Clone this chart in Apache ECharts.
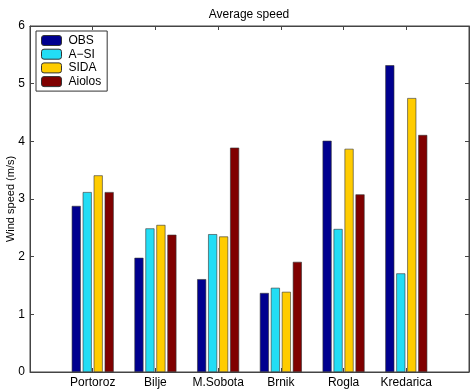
<!DOCTYPE html>
<html><head><meta charset="utf-8">
<script src="https://cdn.jsdelivr.net/npm/echarts@6/dist/echarts.min.js"></script>
<style>html,body{margin:0;padding:0;background:#fff}#c{width:474px;height:390px}</style>
</head><body><div id="c"></div>
<script>
const categories = ['Portoroz', 'Bilje', 'M.Sobota', 'Brnik', 'Rogla', 'Kredarica'];
const seriesNames = ['OBS', 'A\u2212SI', 'SIDA', 'Aiolos'];
const obs    = [2.88, 1.98, 1.61, 1.37, 4.01, 5.32];
const asi    = [3.12, 2.49, 2.39, 1.46, 2.48, 1.71];
const sida   = [3.41, 2.55, 2.35, 1.39, 3.87, 4.75];
const aiolos = [3.12, 2.38, 3.89, 1.91, 3.08, 4.11];
const yTicks = [0, 1, 2, 3, 4, 5, 6];

const colors = ['#00008F', '#22DDF5', '#FFCC00', '#800000'];
const values = [obs, asi, sida, aiolos];
const font = 'Liberation Sans, Arial, Helvetica, sans-serif';
const axisCol = '#444';

// frame: x from 30 to 469 (0..7), categories at 1..6
const L = 30, R = 469, W = 474;
const step = (R - L) / 7;
const barLeft = L + step * 0.5, barRight = R - step * 0.5;

const chart = echarts.init(document.getElementById('c'), null, {renderer: 'canvas'});
chart.setOption({
  animation: false,
  backgroundColor: '#fff',
  title: {text: 'Average speed', left: 244, textAlign: 'center', top: 4,
    textStyle: {fontFamily: font, fontSize: 12, fontWeight: 'normal', color: '#000'}},
  grid: [
    {left: L, right: W - R, top: 26, bottom: 18, containLabel: false, outerBoundsMode: 'none', show: true, borderColor: axisCol, borderWidth: 1},
    {left: barLeft, right: W - barRight, top: 26, bottom: 18, containLabel: false, outerBoundsMode: 'none', show: false}
  ],
  legend: {
    orient: 'vertical', left: 36, top: 31, itemWidth: 20, itemHeight: 10, itemGap: 0.7,
    borderColor: '#333', borderWidth: 1, padding: [3, 6, 3, 5], backgroundColor: '#fff',
    textStyle: {fontFamily: font, fontSize: 12, lineHeight: 13, color: '#000', padding: [0, 0, 0, 2]},
    data: seriesNames.map(n => ({name: n, itemStyle: {borderColor: '#333', borderWidth: 1}}))
  },
  xAxis: [{
    gridIndex: 0, type: 'value', min: 0, max: 7, interval: 1,
    axisLine: {show: true, onZero: false, lineStyle: {color: axisCol}},
    axisTick: {show: true, inside: true, length: 4, lineStyle: {color: axisCol}},
    axisLabel: {show: false},
    splitLine: {show: false}
  }, {
    gridIndex: 0, type: 'value', min: 0, max: 7, interval: 1, position: 'top',
    axisLine: {show: true, onZero: false, lineStyle: {color: axisCol}},
    axisTick: {show: true, inside: true, length: 4, lineStyle: {color: axisCol}},
    axisLabel: {show: false}, splitLine: {show: false}
  }, {
    gridIndex: 1, type: 'category', data: categories, boundaryGap: true,
    axisLine: {show: false}, axisTick: {show: false},
    axisLabel: {show: true, interval: 0, fontFamily: font, fontSize: 12, color: '#000', margin: 5},
    splitLine: {show: false}
  }],
  yAxis: [{
    gridIndex: 0, type: 'value', min: 0, max: 6, interval: 1,
    name: 'Wind speed (m/s)', nameLocation: 'middle', nameGap: 14, nameRotate: 90, nameMoveOverlap: false,
    nameTextStyle: {fontFamily: font, fontSize: 11, color: '#000'},
    axisLine: {show: true, onZero: false, lineStyle: {color: axisCol}},
    axisTick: {show: true, inside: true, length: 4, lineStyle: {color: axisCol}},
    axisLabel: {fontFamily: font, fontSize: 12, color: '#000', margin: 5,
      formatter: v => yTicks.includes(v) ? String(v) : ''},
    splitLine: {show: false}
  }, {
    gridIndex: 0, type: 'value', min: 0, max: 6, interval: 1, position: 'right',
    axisLine: {show: true, onZero: false, lineStyle: {color: axisCol}},
    axisTick: {show: true, inside: true, length: 4, lineStyle: {color: axisCol}},
    axisLabel: {show: false}, splitLine: {show: false}
  }, {
    gridIndex: 1, type: 'value', min: 0, max: 6, interval: 1,
    axisLine: {show: false}, axisTick: {show: false}, axisLabel: {show: false}, splitLine: {show: false}
  }],
  series: seriesNames.map((n, i) => ({
    name: n, type: 'bar', xAxisIndex: 2, yAxisIndex: 2,
    data: values[i],
    barWidth: 9, barGap: '22%',
    itemStyle: {color: colors[i], borderColor: '#333', borderWidth: 0.6}
  }))
});
</script></body></html>
